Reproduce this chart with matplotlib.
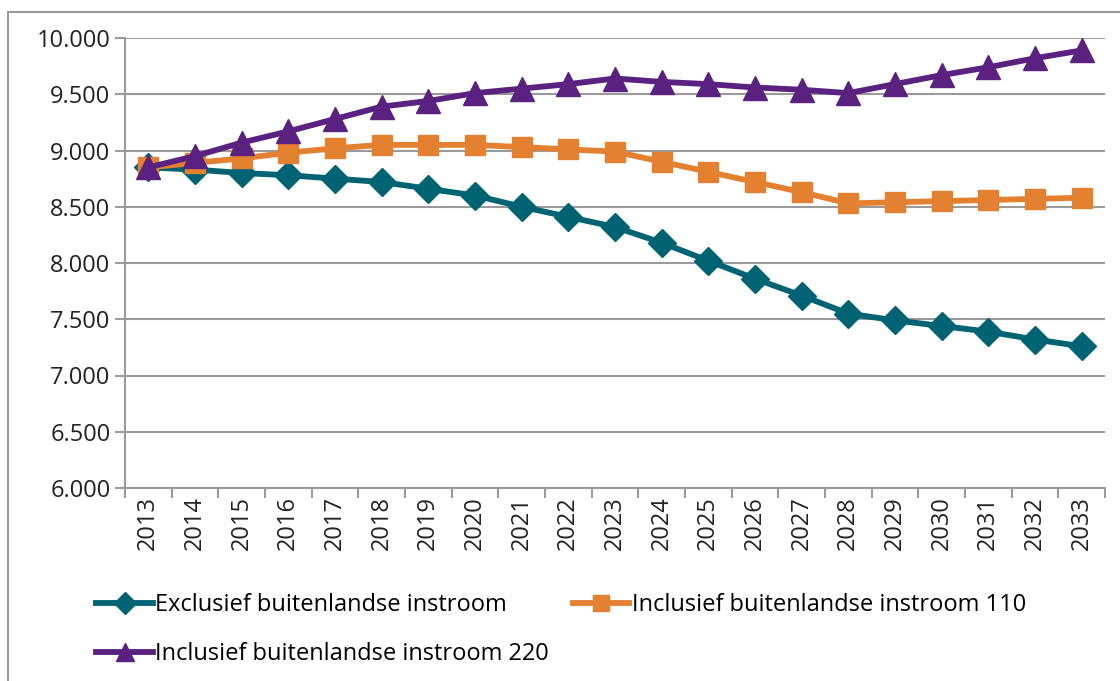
import matplotlib.pyplot as plt
from matplotlib.patches import Rectangle
from matplotlib.ticker import FixedLocator, FuncFormatter

plt.rcParams['font.family'] = ['Open Sans', 'DejaVu Sans']

years = [str(y) for y in range(2013, 2034)]
exclusief = [8850, 8830, 8800, 8780, 8750, 8720, 8660, 8600, 8500, 8410, 8320,
             8180, 8020, 7860, 7710, 7550, 7490, 7440, 7390, 7320, 7260]
incl_110 = [8850, 8890, 8930, 8980, 9020, 9050, 9050, 9050, 9030, 9010, 8990,
            8900, 8810, 8720, 8630, 8530, 8540, 8550, 8560, 8570, 8580]
incl_220 = [8850, 8950, 9070, 9170, 9280, 9390, 9440, 9510, 9550, 9590, 9640,
            9610, 9590, 9560, 9540, 9510, 9590, 9670, 9740, 9820, 9890]

labels = ['Exclusief buitenlandse instroom',
          'Inclusief buitenlandse instroom 110',
          'Inclusief buitenlandse instroom 220']

teal = '#006373'
orange = '#E48131'
purple = '#5A2180'
grid = '#9a9a9a'
fs = 17

fig = plt.figure(figsize=(11.2, 6.81), dpi=100)
fig.patches.append(Rectangle((8 / 1120, -0.1), 1.2, 1 - 12 / 681 + 0.1,
                             transform=fig.transFigure, fill=False,
                             edgecolor='#9a9a9a', linewidth=1.5))
ax = fig.add_axes([125 / 1120, 1 - 488 / 681, 980 / 1120, 450 / 681])

x = list(range(len(years)))
l1, = ax.plot(x, exclusief, color=teal, lw=4.2, marker='D', ms=14, zorder=3)
l2, = ax.plot(x, incl_110, color=orange, lw=4.2, marker='s', ms=15, zorder=3)
l3, = ax.plot(x, incl_220, color=purple, lw=4.2, marker='^', ms=17, zorder=4)

ax.set_xlim(-0.5, len(years) - 0.5)
ax.set_ylim(6000, 10000)
ax.set_yticks(range(6000, 10001, 500))
ax.yaxis.set_major_formatter(FuncFormatter(lambda v, p: f'{int(v):,}'.replace(',', '.')))
ax.grid(axis='y', color=grid, lw=1.5)
ax.set_axisbelow(True)

ax.xaxis.set_major_locator(FixedLocator([i - 0.5 for i in range(len(years) + 1)]))
ax.xaxis.set_major_formatter(FuncFormatter(lambda v, p: ''))
ax.set_xticks(x, minor=True)
ax.set_xticklabels(years, minor=True, rotation=90)

for s in ['top', 'right']:
    ax.spines[s].set_visible(False)
for s in ['left', 'bottom']:
    ax.spines[s].set_color(grid)
    ax.spines[s].set_linewidth(1.5)
ax.tick_params(axis='both', which='major', color=grid, width=1.5, length=7,
               labelsize=fs, labelcolor='#222222')
ax.tick_params(axis='x', which='minor', length=0, labelsize=fs,
               labelcolor='#222222', pad=6)

fig.legend([l1, l3, l2], [labels[0], labels[2], labels[1]], ncol=2,
           loc='upper left', bbox_to_anchor=(75 / 1120, 1 - 572 / 681),
           frameon=False, fontsize=fs, handlelength=2.4, handletextpad=0.1,
           columnspacing=1.0, labelspacing=1.05, markerscale=0.8)

fig.savefig('out.png', dpi=100)
